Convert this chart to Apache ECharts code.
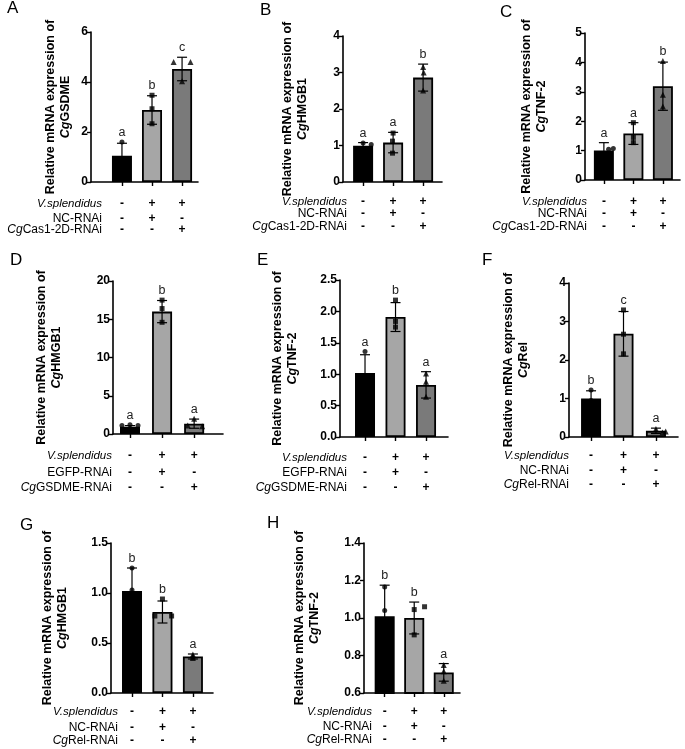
<!DOCTYPE html>
<html style="height: 100%">
<head>
  <meta charset="utf-8">
  <script src="https://cdn.jsdelivr.net/npm/echarts@6/dist/echarts.min.js"></script>
</head>
<body style="height: 100%; margin: 0; background: #fff">
  <div id="main" style="width: 685px; height: 749px"></div>
  <script type="text/javascript">
    // panel data (group x = 0,1,2; points carry a small horizontal jitter)
    var panelLetters = ['A', 'B', 'C', 'D', 'E', 'F', 'G', 'H'];
    var genes = ['GSDME', 'HMGB1', 'TNF-2', 'HMGB1', 'TNF-2', 'Rel', 'HMGB1', 'TNF-2'];
    var rowNamesABC = ['V.splendidus', 'NC-RNAi', 'CgCas1-2D-RNAi'];
    var rowNamesDE = ['V.splendidus', 'EGFP-RNAi', 'CgGSDME-RNAi'];
    var rowNamesFGH = ['V.splendidus', 'NC-RNAi', 'CgRel-RNAi'];
    var signs = [['-', '+', '+'], ['-', '+', '-'], ['-', '-', '+']];

    var yMin = [0, 0, 0, 0, 0, 0, 0, 0.6];
    var yMax = [6, 4, 5, 20, 2.5, 4, 1.5, 1.4];
    var yStep = [2, 1, 1, 5, 0.5, 1, 0.5, 0.2];
    var yDec = [0, 0, 0, 0, 1, 0, 1, 1];

    var meanA = [1.05, 2.88, 4.52];
    var sdA = [0.5, 0.57, 0.47];
    var ptsA = [[[0, 1.6], [-0.1, 0.8], [0.1, 0.75]], [[1, 3.47], [1, 2.93], [1, 2.33]], [[1.72, 4.8], [2.28, 4.8], [2, 4.03]]];
    var sigA = ['a', 'b', 'c'];

    var meanB = [0.99, 1.08, 2.86];
    var sdB = [0.09, 0.28, 0.37];
    var ptsB = [[[0, 1.07], [0.27, 1.03], [-0.1, 0.9]], [[1, 1.34], [0.98, 1.12], [0.98, 0.79]], [[2, 3.15], [2.02, 3.0], [2, 2.51]]];
    var sigB = ['a', 'a', 'b'];

    var meanC = [1.0, 1.58, 3.19];
    var sdC = [0.27, 0.37, 0.82];
    var ptsC = [[[0.16, 1.05], [0.32, 1.07], [-0.1, 0.75]], [[1, 1.95], [1, 1.45], [1, 1.27]], [[2, 4.05], [2, 2.9], [2, 2.5]]];
    var sigC = ['a', 'a', 'b'];

    var meanD = [0.95, 16.0, 1.35];
    var sdD = [0.15, 1.45, 0.6];
    var ptsD = [[[-0.25, 1.1], [0, 1.2], [0.25, 1.1]], [[1, 17.5], [1, 16.4], [1, 14.6]], [[2, 2.0], [1.8, 1.1], [2.25, 1.0]]];
    var sigD = ['a', 'b', 'a'];

    var meanE = [1.02, 1.91, 0.83];
    var sdE = [0.29, 0.23, 0.21];
    var ptsE = [[[0, 1.36], [0, 0.95], [0, 0.75]], [[1, 2.18], [1, 1.84], [1, 1.75]], [[2, 1.01], [2, 0.88], [2, 0.64]]];
    var sigE = ['a', 'b', 'a'];

    var meanF = [1.0, 2.68, 0.16];
    var sdF = [0.2, 0.58, 0.07];
    var ptsF = [[[0, 1.22], [0, 0.95], [0, 0.83]], [[1, 3.3], [1, 2.67], [1, 2.16]], [[2, 0.21], [2.3, 0.14], [2.2, 0.12]]];
    var sigF = ['b', 'c', 'a'];

    var meanG = [1.02, 0.81, 0.365];
    var sdG = [0.23, 0.11, 0.025];
    var ptsG = [[[0, 1.25], [0, 1.03], [0, 0.78]], [[1, 0.94], [0.75, 0.77], [1.3, 0.77]], [[2, 0.385], [2, 0.365], [2, 0.35]]];
    var sigG = ['b', 'b', 'a'];

    var meanH = [1.01, 1.0, 0.71];
    var sdH = [0.165, 0.085, 0.047];
    var ptsH = [[[0, 1.165], [0, 1.04], [0, 0.83]], [[1, 1.045], [1.35, 1.06], [1, 0.91]], [[2, 0.75], [2, 0.716], [2, 0.665]]];
    var sigH = ['b', 'b', 'a'];

    var means = [meanA, meanB, meanC, meanD, meanE, meanF, meanG, meanH];
    var sds = [sdA, sdB, sdC, sdD, sdE, sdF, sdG, sdH];
    var pts = [ptsA, ptsB, ptsC, ptsD, ptsE, ptsF, ptsG, ptsH];
    var sigs = [sigA, sigB, sigC, sigD, sigE, sigF, sigG, sigH];
    var rowNames = [rowNamesABC, rowNamesABC, rowNamesABC, rowNamesDE, rowNamesDE, rowNamesFGH, rowNamesFGH, rowNamesFGH];

    // layout in pixels
    var layout = [
      { l: 91, t: 32, r: 198, b: 182, xMin: -1.03, xMax: 2.53, gap: 18, rows: [22, 37, 48], rg: -11, pl: [7, 0] },
      { l: 343, t: 36, r: 442, b: 182, xMin: -0.67, xMax: 2.63, gap: 33, rows: [20, 32, 45], rg: -4, pl: [260, 2] },
      { l: 585, t: 33, r: 680, b: 180, xMin: -0.64, xMax: 2.58, gap: 36, rows: [22, 34, 47], rg: -2, pl: [500, 4] },
      { l: 113, t: 281, r: 223, b: 434, xMin: -0.53, xMax: 2.9, gap: 49, rows: [22, 39, 54], rg: 1, pl: [10, 252] },
      { l: 340, t: 280, r: 448, b: 437, xMin: -0.82, xMax: 2.72, gap: 40, rows: [21, 36, 51], rg: -7, pl: [257, 252] },
      { l: 569, t: 283, r: 678, b: 437, xMin: -0.68, xMax: 2.68, gap: 38, rows: [19, 34, 48], rg: 0, pl: [482, 252] },
      { l: 111, t: 543, r: 213, b: 693, xMin: -0.69, xMax: 2.66, gap: 41, rows: [19, 35, 48], rg: -7, pl: [20, 517] },
      { l: 364, t: 543, r: 460, b: 693, xMin: -0.7, xMax: 2.55, gap: 42, rows: [19, 34, 47], rg: -8, pl: [267, 515] }
    ];

    var font = 'Liberation Sans, Arial, sans-serif';
    var barColors = ['#000000', '#a6a6a6', '#7a7a7a'];
    var symbols = ['circle', 'rect', 'triangle'];

    function richName(s) {
      if (s.indexOf('Cg') === 0) return '{i|Cg}{n|' + s.slice(2) + '}';
      if (s.indexOf('V.') === 0) return '{v|' + s + '}';
      return '{n|' + s + '}';
    }

    var grids = [], xAxes = [], yAxes = [], series = [], graphics = [];

    layout.forEach(function (L, p) {
      grids.push({ left: L.l, top: L.t, width: L.r - L.l, height: L.b - L.t });

      xAxes.push({
        type: 'value', gridIndex: p, min: L.xMin, max: L.xMax, position: 'bottom',
        axisLine: { onZero: false, lineStyle: { color: '#000', width: 1.6 } },
        axisTick: { show: true, length: 4, lineStyle: { color: '#000', width: 1.4 }, customValues: [0, 1, 2] },
        axisLabel: { show: false, customValues: [0, 1, 2] },
        splitLine: { show: false }
      });
      for (var r = 0; r < 3; r++) {
        (function (r) {
          xAxes.push({
            type: 'value', gridIndex: p, min: L.xMin, max: L.xMax, position: 'bottom', offset: L.rows[r],
            axisLine: { show: false, onZero: false }, axisTick: { show: false }, splitLine: { show: false },
            axisLabel: {
              customValues: [0, 1, 2], margin: 0, verticalAlign: 'middle',
              fontFamily: font, fontSize: 12, fontWeight: 'bold', color: '#000',
              formatter: function (v) { return signs[r][Math.round(v)]; }
            },
            name: richName(rowNames[p][r]), nameLocation: 'start', nameGap: L.rg,
            nameTextStyle: {
              fontFamily: font, fontSize: 12, color: '#000',
              rich: {
                i: { fontFamily: font, fontSize: 12, fontStyle: 'italic', color: '#000' },
                n: { fontFamily: font, fontSize: 12, color: '#000' },
                v: { fontFamily: font, fontSize: 11.5, fontStyle: 'italic', color: '#000' }
              }
            }
          });
        })(r);
      }

      yAxes.push({
        type: 'value', gridIndex: p, min: yMin[p], max: yMax[p], interval: yStep[p],
        axisLine: { show: true, onZero: false, lineStyle: { color: '#000', width: 1.6 } },
        axisTick: { show: true, length: 4, lineStyle: { color: '#000', width: 1.4 } },
        axisLabel: {
          margin: 3, fontFamily: font, fontSize: 12, fontWeight: 'bold', color: '#000',
          formatter: (function (d) { return function (v) { return v.toFixed(d); }; })(yDec[p])
        },
        splitLine: { show: false },
        name: '{t|Relative mRNA expression of}\n{i|Cg}{t|' + genes[p] + '}',
        nameLocation: 'middle', nameRotate: 90, nameGap: L.gap,
        nameTextStyle: {
          fontFamily: font, fontSize: 12.5, fontWeight: 'bold', color: '#000', lineHeight: 15,
          rich: {
            t: { fontFamily: font, fontSize: 12.5, fontWeight: 'bold', color: '#000', lineHeight: 15 },
            i: { fontFamily: font, fontSize: 12.5, fontWeight: 'bold', fontStyle: 'italic', color: '#000', lineHeight: 15 }
          }
        }
      });

      var xi = p * 4;
      series.push({
        type: 'bar', xAxisIndex: xi, yAxisIndex: p, barWidth: 20, clip: true,
        data: means[p].map(function (m, g) {
          return { value: [g, m], itemStyle: { color: barColors[g], borderColor: '#000', borderWidth: 1.8 } };
        })
      });

      var errData = means[p].map(function (m, g) {
        var top = m + sds[p][g];
        pts[p][g].forEach(function (q) { if (q[1] > top) top = q[1]; });
        return [g, m, sds[p][g], top];
      });
      series.push({
        type: 'custom', xAxisIndex: xi, yAxisIndex: p, z: 4, data: errData,
        renderItem: (function (sig) {
          return function (params, api) {
            var x = api.value(0), m = api.value(1), s = api.value(2), top = api.value(3);
            var hi = api.coord([x, m + s]), lo = api.coord([x, m - s]), lt = api.coord([x, top]);
            var st = { stroke: '#000', lineWidth: 1.2 };
            return {
              type: 'group', children: [
                { type: 'line', shape: { x1: hi[0], y1: hi[1], x2: lo[0], y2: lo[1] }, style: st },
                { type: 'line', shape: { x1: hi[0] - 5, y1: hi[1], x2: hi[0] + 5, y2: hi[1] }, style: st },
                { type: 'line', shape: { x1: lo[0] - 5, y1: lo[1], x2: lo[0] + 5, y2: lo[1] }, style: st },
                {
                  type: 'text', x: lt[0], y: lt[1] - 3,
                  style: { text: sig[params.dataIndex], textAlign: 'center', textVerticalAlign: 'bottom', font: '12.5px ' + font, fill: '#222' }
                }
              ]
            };
          };
        })(sigs[p])
      });

      for (var g = 0; g < 3; g++) {
        series.push({
          type: 'scatter', xAxisIndex: xi, yAxisIndex: p, z: 5,
          symbol: symbols[g], symbolSize: g === 2 ? 6 : 5,
          itemStyle: { color: '#000' }, data: pts[p][g]
        });
      }

      graphics.push({
        type: 'text', left: L.pl[0], top: L.pl[1],
        style: { text: panelLetters[p], font: '17px ' + font, fill: '#000' }
      });
    });

    var myChart = echarts.init(document.getElementById('main'));
    var option = {
      backgroundColor: '#fff',
      animation: false,
      grid: grids,
      xAxis: xAxes,
      yAxis: yAxes,
      series: series,
      graphic: graphics
    };
    myChart.setOption(option);
  </script>
</body>
</html>
